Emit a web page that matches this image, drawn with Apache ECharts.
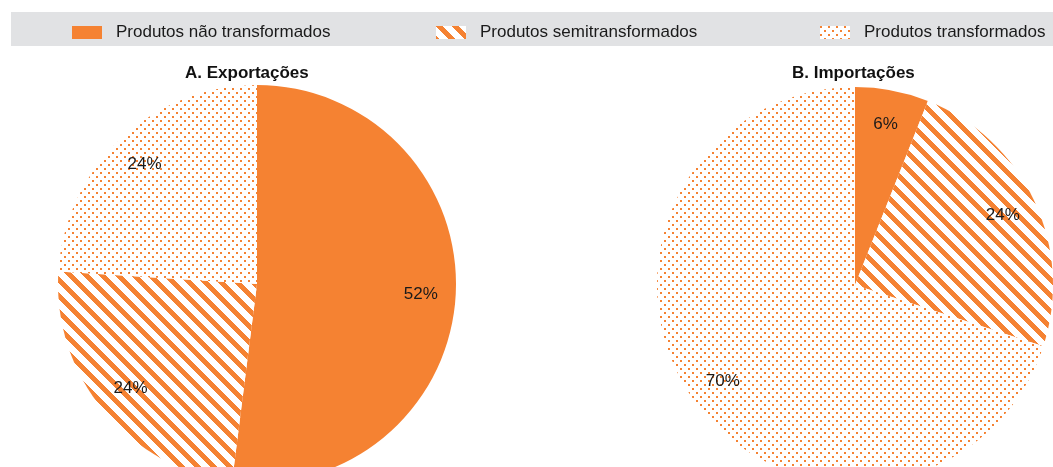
<!DOCTYPE html>
<html>
<head>
<meta charset="utf-8">
<script src="https://cdn.jsdelivr.net/npm/echarts@6/dist/echarts.min.js"></script>
<style>
  html, body { margin: 0; padding: 0; background: #fff; }
  #chart { width: 1053px; height: 467px; }
</style>
</head>
<body>
<div id="chart"></div>
<script>
// dados
var categorias = ['Produtos não transformados', 'Produtos semitransformados', 'Produtos transformados'];
var exportacoes = [52, 24, 24];
var importacoes = [6, 24, 70];
var titulos = ['A. Exportações', 'B. Importações'];

var laranja = '#f58232';
var fonte = '"Liberation Sans Narrow", "Liberation Sans", Arial, sans-serif';

// padrões (riscas e pontos)
function riscas() {
    var c = document.createElement('canvas');
    c.width = 16; c.height = 16;
    var ctx = c.getContext('2d');
    ctx.fillStyle = '#fff';
    ctx.fillRect(0, 0, 16, 16);
    ctx.fillStyle = laranja;
    for (var y = 0; y < 16; y++) {
        for (var x = 0; x < 16; x++) {
            if ((((x - y) % 16) + 16) % 16 < 7) ctx.fillRect(x, y, 1, 1);
        }
    }
    return c;
}
function pontos() {
    var c = document.createElement('canvas');
    c.width = 8; c.height = 8;
    var ctx = c.getContext('2d');
    ctx.fillStyle = '#fff';
    ctx.fillRect(0, 0, 8, 8);
    ctx.fillStyle = laranja;
    ctx.fillRect(0, 0, 2, 2);
    ctx.fillRect(4, 4, 2, 2);
    return c;
}
var cores = [
    laranja,
    { image: riscas(), repeat: 'repeat' },
    { image: pontos(), repeat: 'repeat' }
];

function dados(valores) {
    var d = [];
    for (var i = 0; i < valores.length; i++) {
        d.push({ name: categorias[i], value: valores[i], itemStyle: { color: cores[i] } });
    }
    return d;
}
function rotulos(valores) {
    var d = [];
    for (var i = 0; i < valores.length; i++) {
        d.push({ name: categorias[i], value: valores[i] });
    }
    return d;
}

function fatias(centro, raio, valores) {
    return {
        type: 'pie',
        center: centro,
        radius: raio,
        startAngle: 90,
        clockwise: true,
        label: { show: false },
        labelLine: { show: false },
        emphasis: { disabled: true },
        itemStyle: { borderWidth: 0 },
        data: dados(valores)
    };
}
// anel transparente só para colocar os rótulos perto da borda
function textos(centro, raio, valores) {
    return {
        type: 'pie',
        center: centro,
        radius: [raio * 0.62, raio],
        startAngle: 90,
        clockwise: true,
        silent: true,
        z: 5,
        itemStyle: { color: 'rgba(0,0,0,0)', borderWidth: 0 },
        label: {
            show: true,
            position: 'inner',
            formatter: '{c}%',
            color: '#1a1a1a',
            fontSize: 17,
            fontFamily: fonte
        },
        labelLine: { show: false },
        emphasis: { disabled: true },
        data: rotulos(valores)
    };
}

function legenda(i, x) {
    return {
        data: [categorias[i]],
        left: x,
        top: 24,
        padding: 0,
        icon: 'rect',
        itemWidth: 30,
        itemHeight: 13,
        selectedMode: false,
        textStyle: { fontSize: 17, color: '#1a1a1a', fontFamily: fonte, padding: [0, 0, 0, 9] }
    };
}

var myChart = echarts.init(document.getElementById('chart'));

var option = {
    animation: false,
    backgroundColor: '#fff',
    graphic: [{
        type: 'rect',
        z: -10,
        shape: { x: 11, y: 12, width: 1042, height: 34 },
        style: { fill: '#e1e2e4' }
    }],
    title: [
        { text: titulos[0], left: 185, top: 65, padding: 0,
          textStyle: { fontSize: 17, fontWeight: 'bold', color: '#111', fontFamily: fonte } },
        { text: titulos[1], left: 792, top: 65, padding: 0,
          textStyle: { fontSize: 17, fontWeight: 'bold', color: '#111', fontFamily: fonte } }
    ],
    legend: [legenda(0, 72), legenda(1, 436), legenda(2, 820)],
    series: [
        fatias([257, 284], 199, exportacoes),
        fatias([855, 285], 198, importacoes),
        textos([257, 284], 199, exportacoes),
        textos([855, 285], 198, importacoes)
    ]
};

myChart.setOption(option);
</script>
</body>
</html>
